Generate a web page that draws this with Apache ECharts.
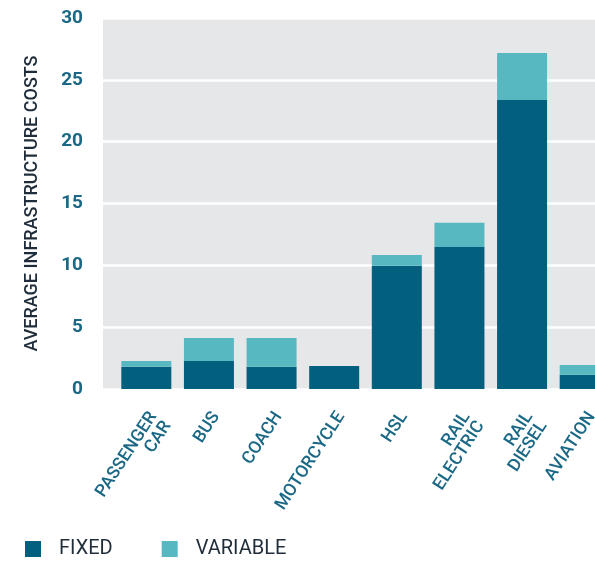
<!DOCTYPE html>
<html>
<head>
<meta charset="utf-8">
<script src="https://cdn.jsdelivr.net/npm/echarts@6/dist/echarts.min.js"></script>
<style>
  html, body { margin: 0; padding: 0; background: #fff; }
  #chart { width: 595px; height: 561px; }
</style>
</head>
<body>
<div id="chart"></div>
<script>
// categories and values
const categories = ['PASSENGER\nCAR', 'BUS', 'COACH', 'MOTORCYCLE', 'HSL', 'RAIL\nELECTRIC', 'RAIL\nDIESEL', 'AVIATION'];
const fixedCosts = [1.8, 2.26, 1.8, 1.86, 9.97, 11.48, 23.36, 1.16];
const variableCosts = [0.46, 1.86, 2.32, 0, 0.86, 1.97, 3.8, 0.78];
const yTicks = { min: 0, max: 30, interval: 5 };

const FONT = 'Roboto';
const teal = '#1a6885';
const dark = '#1f2d3a';

const myChart = echarts.init(document.getElementById('chart'));

const option = {
  animation: false,
  backgroundColor: '#fff',
  textStyle: { fontFamily: FONT },
  grid: [
    // grey background + white grid lines
    { left: 103, top: 18, right: 0, bottom: 172, show: true, backgroundColor: '#e6e7e9', borderWidth: 0, outerBoundsMode: 'none' },
    // bars (last category is cut by the page edge)
    { left: 115, top: 18, width: 501, bottom: 172, outerBoundsMode: 'none' }
  ],
  xAxis: [
    { type: 'value', gridIndex: 0, show: false, min: 0, max: 1 },
    {
      type: 'category',
      gridIndex: 1,
      data: categories,
      axisLine: { show: false },
      axisTick: { show: false },
      axisLabel: {
        rotate: 57,
        margin: 20,
        interval: 0,
        color: teal,
        fontSize: 17.5,
        fontWeight: 500,
        lineHeight: 17,
        align: 'right',
        verticalAlign: 'top'
      }
    }
  ],
  yAxis: [
    {
      type: 'value',
      gridIndex: 0,
      min: yTicks.min,
      max: yTicks.max,
      interval: yTicks.interval,
      name: 'AVERAGE INFRASTRUCTURE COSTS',
      nameLocation: 'middle',
      nameGap: 62,
      nameTextStyle: { color: dark, fontSize: 18, fontWeight: 500 },
      axisLine: { show: false },
      axisTick: { show: false },
      axisLabel: { color: teal, fontSize: 19, fontWeight: 'bold', margin: 20 },
      splitLine: { show: true, lineStyle: { color: '#ffffff', width: 2.5 } }
    },
    { type: 'value', gridIndex: 1, min: yTicks.min, max: yTicks.max, show: false }
  ],
  legend: {
    left: 25,
    top: 539,
    padding: 0,
    itemWidth: 16,
    itemHeight: 16,
    itemGap: 49,
    icon: 'rect',
    textStyle: { color: dark, fontSize: 20, padding: [0, 0, 0, 13] },
    data: ['FIXED', 'VARIABLE']
  },
  series: [
    {
      name: 'FIXED',
      type: 'bar',
      stack: 'cost',
      xAxisIndex: 1,
      yAxisIndex: 1,
      barWidth: 50,
      itemStyle: { color: '#035f7e' },
      data: fixedCosts
    },
    {
      name: 'VARIABLE',
      type: 'bar',
      stack: 'cost',
      xAxisIndex: 1,
      yAxisIndex: 1,
      barWidth: 50,
      itemStyle: { color: '#58b8c2' },
      data: variableCosts
    }
  ]
};

myChart.setOption(option);
</script>
</body>
</html>
